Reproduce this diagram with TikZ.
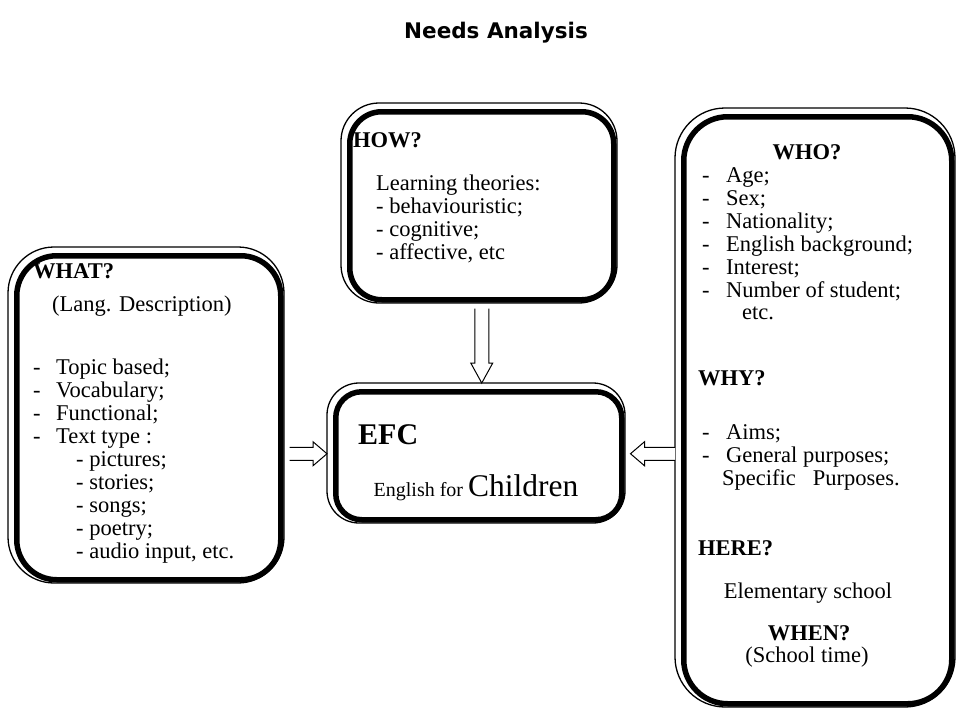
\documentclass[tikz,border=0pt]{standalone}
\usepackage{fontspec}
\setmainfont{Liberation Serif}
\newfontfamily\titlefont{DejaVu Sans}
\usetikzlibrary{calc}
\newcommand\dblbox[6]{%
  \draw[line width=1.3pt, rounded corners=#6] (#2,#3) rectangle (#4,#5);
  \node[bx=#6-6, minimum width=#4-#2-12, minimum height=#5-#3-12] (#1) at (#2+6,#3+6) {};
}
\begin{document}
\begin{tikzpicture}[x=1pt,y=-1pt,
  bx/.style={draw, line width=5.5pt, rounded corners=#1, inner sep=0pt, anchor=north west},
  txt/.style={anchor=base west, inner sep=0pt, font=\fontsize{22.5}{23}\selectfont},
  ctxt/.style={anchor=base, inner sep=0pt, font=\fontsize{22.5}{23}\selectfont},
  btxt/.style={anchor=base west, inner sep=0pt, font=\fontsize{22.5}{23}\selectfont\bfseries},
  cbtxt/.style={anchor=base, inner sep=0pt, font=\fontsize{22.5}{23}\selectfont\bfseries},
  blk/.style={draw, line width=1pt, fill=white, line join=miter},
  ]
\useasboundingbox (0,0) rectangle (961,712);

\node[font={\titlefont\fontsize{21.5}{24}\selectfont\bfseries}] (title) at (496,33) {Needs Analysis};

% boxes
\dblbox{how}{341}{103}{617}{303}{38}
\dblbox{what}{8}{247}{284}{583}{46}
\dblbox{efc}{327}{383}{625}{523}{32}
\dblbox{who}{675}{108}{955}{707}{50}

% HOW text
\node[btxt] (howt) at (353,147) {HOW?};
\node[txt] (how1) at (376,190) {Learning theories:};
\node[txt] (how2) at (376,213) {- behaviouristic;};
\node[txt] (how3) at (376,236) {- cognitive;};
\node[txt] (how4) at (376,259) {- affective, etc};

% WHAT text
\node[btxt] (whatt) at (33,278) {WHAT?};
\node[txt] (what0) at (52,311) {(Lang. Description)};
\foreach \t/\y [count=\i] in {Topic based;/374, Vocabulary;/397, Functional;/420, Text type :/443}{
  \node[txt] (wd\i) at (33,\y) {-};
  \node[txt] (wi\i) at (56,\y) {\t};
}
\foreach \t/\y [count=\i] in {pictures;/466, stories;/489, songs;/512, poetry;/535, {audio input, etc.}/558}{
  \node[txt] (ws\i) at (76,\y) {- \t};
}

% EFC text
\node[anchor=base west, inner sep=0pt, font=\fontsize{30}{32}\selectfont\bfseries] (efct) at (358,444) {EFC};
\node[anchor=base, inner sep=0pt] (efcs) at (476,496) {\fontsize{20}{22}\selectfont English for \fontsize{31.5}{33}\selectfont Children};

% WHO text
\node[cbtxt] (whot) at (807,159) {WHO?};
\foreach \t/\y [count=\i] in {Age;/182, Sex;/205, Nationality;/228, English background;/251, Interest;/274, Number of student;/297}{
  \node[txt] (hd\i) at (702,\y) {-};
  \node[txt] (hi\i) at (726,\y) {\t};
}
\node[txt] (hetc) at (742,319) {etc.};
\node[btxt] (whyt) at (698,385) {WHY?};
\node[txt] (yd1) at (702,439) {-};
\node[txt] (yi1) at (726,439) {Aims;};
\node[txt] (yd2) at (702,462) {-};
\node[txt] (yi2) at (726,462) {General purposes;};
\node[txt] (yi3) at (722,485) {Specific\ \ \ Purposes.};
\node[btxt] (heret) at (698,555) {HERE?};
\node[ctxt] (here1) at (808,598) {Elementary school};
\node[cbtxt] (whent) at (809,640) {WHEN?};
\node[ctxt] (when1) at (807,662) {(School time)};

% block arrows
\coordinate (da) at ($(how.south)+(0,6)$);
\coordinate (db) at ($(how.south |- efc.north)+(0,-6)$);
\draw[blk] ($(da)+(-7,0)$) -- ($(db)+(-7,-20)$) -- ($(db)+(-11,-20)$) -- (db)
  -- ($(db)+(11,-20)$) -- ($(db)+(7,-20)$) -- ($(da)+(7,0)$);

\coordinate (la) at ($(what.east |- efc.west)+(6,-2)$);
\coordinate (lb) at ($(efc.west)+(-6,-2)$);
\draw[blk] ($(la)+(0,-6.5)$) -- ($(lb)+(-14,-6.5)$) -- ($(lb)+(-14,-12)$) -- (lb)
  -- ($(lb)+(-14,12)$) -- ($(lb)+(-14,6.5)$) -- ($(la)+(0,6.5)$);

\coordinate (ra) at ($(who.west |- efc.east)+(-6,-2)$);
\coordinate (rb) at ($(efc.east)+(6,-2)$);
\draw[blk] ($(ra)+(0,-6.5)$) -- ($(rb)+(14,-6.5)$) -- ($(rb)+(14,-12)$) -- (rb)
  -- ($(rb)+(14,12)$) -- ($(rb)+(14,6.5)$) -- ($(ra)+(0,6.5)$);
\end{tikzpicture}
\end{document}
